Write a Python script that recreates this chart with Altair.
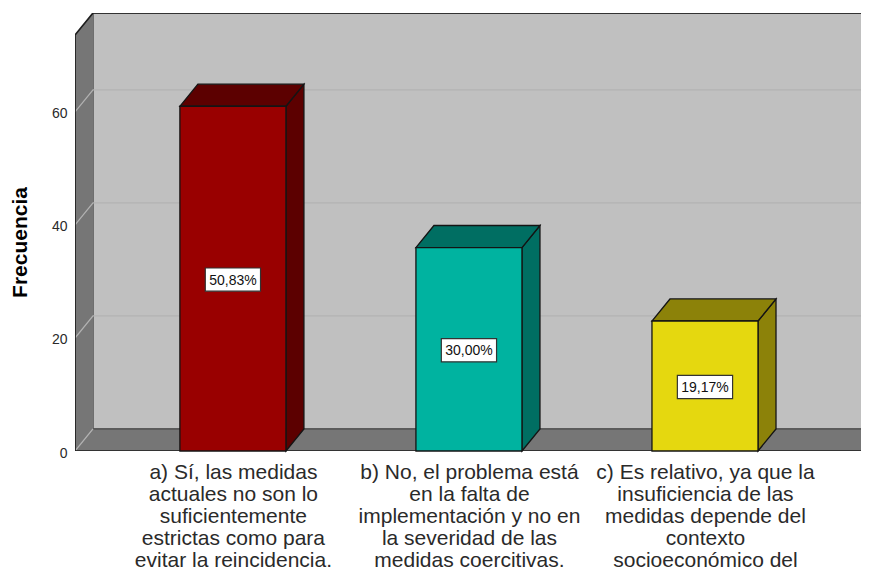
import json
import altair as alt
import pandas as pd

categories = [
    ["a) Sí, las medidas", "actuales no son lo", "suficientemente", "estrictas como para", "evitar la reincidencia."],
    ["b) No, el problema está", "en la falta de", "implementación y no en", "la severidad de las", "medidas coercitivas."],
    ["c) Es relativo, ya que la", "insuficiencia de las", "medidas depende del", "contexto", "socioeconómico del"],
]
frequencies = [61, 36, 23]
percent_labels = ["50,83%", "30,00%", "19,17%"]
front_colors = ["#990000", "#00B3A0", "#E5D80F"]
dark_colors = ["#5C0000", "#006E62", "#8C8209"]
y_ticks = [0, 20, 40, 60]

# 3-D look, in data units
HALF = 0.2246
DX = 0.0763
DY = 3.9
XL, XR = -0.669, 2.669
TOP = 73.6
BOX_W, BOX_H = 0.117, 2.05
BOX_SHIFT = -0.17
FONT = "Liberation Sans"
INK = "#2A2A2A"

X_DOM = [XL, 2.661]
Y_DOM = [0, TOP + DY]
x_axis = alt.Axis(
    values=[0, 1, 2], title=None, domain=False, ticks=False, grid=False,
    labelExpr=json.dumps(categories, ensure_ascii=False) + "[datum.value]",
    labelFont=FONT, labelFontSize=21, labelLineHeight=22, labelColor=INK,
    labelPadding=10, labelOverlap=False, labelBound=False, labelFlush=False,
    labelAlign="center", labelBaseline="top", labelLimit=500,
)
y_axis = alt.Axis(
    values=y_ticks, title="Frecuencia", domain=False, ticks=False, grid=False,
    labelFont=FONT, labelFontSize=14, labelColor=INK, labelPadding=8, labelOffset=2,
    titleFont=FONT, titleFontSize=21, titleFontWeight="bold", titleColor="#000000",
    titleX=-45, titleY=229,
)
X = alt.X("x:Q", scale=alt.Scale(domain=X_DOM, nice=False, zero=False), axis=x_axis)
Y = alt.Y("y:Q", scale=alt.Scale(domain=Y_DOM, nice=False), axis=y_axis)
Y2 = alt.Y2("y2:Q")

# Back wall
back = pd.DataFrame({"x": [XL + DX], "x2": [XR + DX], "y": [DY], "y2": [TOP + DY]})
back_l = alt.Chart(back).mark_rect(fill="#C0C0C0", stroke="#555555", strokeWidth=1.5, clip=True).encode(
    x=X, x2=alt.X2("x2:Q"), y=Y, y2=Y2)

# Side wall
side = pd.DataFrame({"x": [XL, XL + DX], "y": [0, DY], "y2": [TOP, TOP + DY]})
side_l = alt.Chart(side).mark_area(fill="#767676", clip=True).encode(x=X, y=Y, y2=Y2)

# Floor
floor = pd.DataFrame({"x": [XL, XL + DX, XR, XR + DX], "y": [0, 0, 0, DY], "y2": [0, DY, DY, DY]})
floor_l = alt.Chart(floor).mark_area(fill="#767676", clip=True).encode(x=X, y=Y, y2=Y2)
floor_back = pd.DataFrame({"x": [XL + DX, XR + DX], "y": [DY, DY]})
floor_back_l = alt.Chart(floor_back).mark_line(color="#555555", strokeWidth=1.5, clip=True).encode(x=X, y=Y)

# Grid lines
grid_rows = []
for t in y_ticks:
    if t == 0:
        grid_rows += [{"t": t, "o": 0, "x": XL, "y": 0}, {"t": t, "o": 1, "x": XL + DX, "y": DY}]
    else:
        grid_rows += [{"t": t, "o": 0, "x": XL, "y": t}, {"t": t, "o": 1, "x": XL + DX, "y": t + DY},
                      {"t": t, "o": 2, "x": XR + DX, "y": t + DY}]
grid_l = alt.Chart(pd.DataFrame(grid_rows)).mark_line(color="#B2B2B2", strokeWidth=1.3, clip=True).encode(
    x=X, y=Y, detail="t:N", order="o:Q")

# Frame
frame = pd.DataFrame({
    "o": [0, 1, 2, 3, 4, 5],
    "x": [XR + DX, XL + DX, XL, XL, XR, XR + DX],
    "y": [TOP + DY, TOP + DY, TOP, 0, 0, DY],
})
frame_l = alt.Chart(frame).mark_line(color="#1E1E1E", strokeWidth=1.7, clip=True).encode(x=X, y=Y, order="o:Q")

# Bars
front_rows, top_rows, side_rows, box_rows = [], [], [], []
for i, v in enumerate(frequencies):
    x0, x1 = i - HALF, i + HALF
    yc = v / 2 + BOX_SHIFT
    front_rows.append({"x": x0, "x2": x1, "y": 0, "y2": v, "c": front_colors[i]})
    for x, a, b in [(x0, v, v), (x0 + DX, v, v + DY), (x1, v, v + DY), (x1 + DX, v + DY, v + DY)]:
        top_rows.append({"id": i, "x": x, "y": a, "y2": b, "c": dark_colors[i]})
    for x, a, b in [(x1, 0, v), (x1 + DX, DY, v + DY)]:
        side_rows.append({"id": i, "x": x, "y": a, "y2": b, "c": dark_colors[i]})
    box_rows.append({"x": i - BOX_W, "x2": i + BOX_W, "y": yc - BOX_H, "y2": yc + BOX_H,
                     "xc": i, "yc": yc, "t": percent_labels[i]})

edge = dict(stroke="#141414", strokeWidth=1.3)
top_l = alt.Chart(pd.DataFrame(top_rows)).mark_area(**edge).encode(
    x=X, y=Y, y2=Y2, detail="id:N", fill=alt.Fill("c:N", scale=None))
bside_l = alt.Chart(pd.DataFrame(side_rows)).mark_area(**edge).encode(
    x=X, y=Y, y2=Y2, detail="id:N", fill=alt.Fill("c:N", scale=None))
front_l = alt.Chart(pd.DataFrame(front_rows)).mark_rect(**edge).encode(
    x=X, x2=alt.X2("x2:Q"), y=Y, y2=Y2, fill=alt.Fill("c:N", scale=None))

boxes = pd.DataFrame(box_rows)
box_l = alt.Chart(boxes).mark_rect(fill="#FFFFFF", stroke="#333333", strokeWidth=1.2).encode(
    x=X, x2=alt.X2("x2:Q"), y=Y, y2=Y2)
text_l = alt.Chart(boxes).mark_text(font=FONT, fontSize=14, color="#111111", baseline="middle", dy=1).encode(
    x=alt.X("xc:Q", scale=alt.Scale(domain=X_DOM, nice=False, zero=False), axis=x_axis),
    y=alt.Y("yc:Q", scale=alt.Scale(domain=Y_DOM, nice=False), axis=y_axis),
    text="t:N")

chart = alt.layer(
    back_l, side_l, floor_l, floor_back_l, grid_l, frame_l,
    bside_l, top_l, front_l, box_l, text_l,
).properties(
    width=786, height=438,
    padding={"left": 67, "top": 5, "right": 0, "bottom": 120},
    autosize=alt.AutoSizeParams(type="none"),
    background="#FFFFFF",
).configure_view(stroke=None)

chart.save("out.html", embed_options={"renderer": "svg", "actions": False})
